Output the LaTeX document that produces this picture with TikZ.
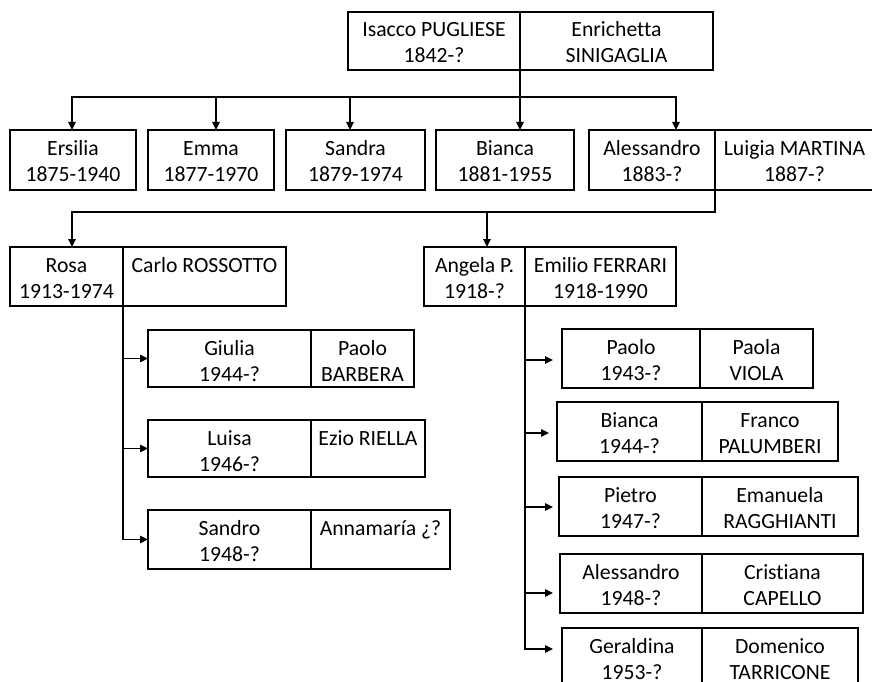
\documentclass[tikz,border=0pt]{standalone}
\usepackage{fontspec}
\setmainfont{Carlito}[Ligatures=NoCommon]
\usetikzlibrary{arrows.meta}

% one box of a family chart: name, corners (x1,y1)-(x2,y2), two text lines
\newcommand{\famcell}[7]{%
  \pgfmathsetmacro{\cw}{#4-#2}%
  \pgfmathsetmacro{\ch}{#5-#3}%
  \node[cellbox, minimum width=\cw pt, minimum height=\ch pt]
    (#1) at ({(#2+#4)/2},{(#3+#5)/2}) {};
  \path (#1.north) ++(0,25) node[celltext] (#1-a) {#6}
                   ++(0,26) node[celltext] (#1-b) {#7};
}

\begin{document}
\begin{tikzpicture}[x=1pt, y=-1pt,
  cellbox/.style={draw=black, line width=1.3pt, inner sep=0pt, outer sep=0pt},
  celltext/.style={anchor=base, inner sep=0pt, font=\fontsize{21.7}{26}\selectfont, text=black},
  link/.style={draw=black, line width=1.3pt},
  arr/.style={link, -{Triangle[length=8pt, width=7.5pt]}}]
\useasboundingbox (0,0) rectangle (872,682);

% first generation
\famcell{isacco}{348}{12}{520}{70}{Isacco PUGLIESE}{1842-?}
\famcell{enrichetta}{520}{12}{713}{70}{Enrichetta}{SINIGAGLIA}

% their children
\famcell{ersilia}{10}{130}{136}{190}{Ersilia}{1875-1940}
\famcell{emma}{148}{130}{274}{190}{Emma}{1877-1970}
\famcell{sandra}{286}{130}{425}{190}{Sandra}{1879-1974}
\famcell{biancaA}{436}{130}{574}{190}{Bianca}{1881-1955}
\famcell{alessandroA}{589}{130}{715}{190}{Alessandro}{1883-?}
\famcell{luigia}{715}{130}{874}{190}{Luigia MARTINA}{1887-?}

% grandchildren
\famcell{rosa}{10}{247}{123}{306}{Rosa}{1913-1974}
\famcell{carlo}{123}{247}{286}{306}{Carlo ROSSOTTO}{}
\famcell{angela}{424}{247}{525}{306}{Angela P.}{1918-?}
\famcell{emilio}{525}{247}{676}{306}{Emilio FERRARI}{1918-1990}

% children of Rosa
\famcell{giulia}{148}{330}{311}{387}{Giulia}{1944-?}
\famcell{barbera}{311}{330}{414}{387}{Paolo}{BARBERA}
\famcell{luisa}{148}{420}{311}{477}{Luisa}{1946-?}
\famcell{ezio}{311}{420}{425}{477}{Ezio RIELLA}{}
\famcell{sandro}{148}{510}{311}{569}{Sandro}{1948-?}
\famcell{annamaria}{311}{510}{450}{569}{Annamaría ¿?}{}

% children of Angela
\famcell{paolo}{562}{329}{700}{388}{Paolo}{1943-?}
\famcell{paola}{700}{329}{813}{388}{Paola}{VIOLA}
\famcell{biancaB}{557}{402}{702}{461}{Bianca}{1944-?}
\famcell{franco}{702}{402}{838}{461}{Franco}{PALUMBERI}
\famcell{pietro}{559}{477}{702}{536}{Pietro}{1947-?}
\famcell{emanuela}{702}{477}{858}{536}{Emanuela}{RAGGHIANTI}
\famcell{alessandroB}{560}{554}{702}{613}{Alessandro}{1948-?}
\famcell{cristiana}{702}{554}{863}{613}{Cristiana}{CAPELLO}
\famcell{geraldina}{562}{628}{702}{687}{Geraldina}{1953-?}
\famcell{domenico}{702}{628}{858}{687}{Domenico}{TARRICONE}

% bus from the first couple
\coordinate (t1) at (72,97);
\coordinate (t2) at (216,97);
\coordinate (t3) at (350,97);
\coordinate (t4) at (520,97);
\coordinate (t5) at (676,97);
\draw[link] (isacco.south east) -- (t4);
\draw[arr] (t2) -- (t1) -- (t1 |- ersilia.north);
\draw[arr] (t2) -- (t5) -- (t5 |- alessandroA.north);
\draw[arr] (t2) -- (t2 |- emma.north);
\draw[arr] (t3) -- (t3 |- sandra.north);
\draw[arr] (t4) -- (t4 |- biancaA.north);

% bus from Alessandro and Luigia
\coordinate (g1) at (72,212);
\coordinate (g2) at (487,212);
\draw[arr] (alessandroA.south east) |- (g1) -- (g1 |- rosa.north);
\draw[arr] (g2) -- (g2 |- angela.north);

% Rosa's line
\draw[arr] (rosa.south east) |- (sandro.west);
\draw[arr] (rosa.south east |- giulia.west) -- (giulia.west);
\draw[arr] (rosa.south east |- luisa.west) -- (luisa.west);

% Angela's line
\coordinate (e1) at (553,360);
\coordinate (e2) at (549,433);
\coordinate (e3) at (553,507);
\coordinate (e4) at (553,593);
\coordinate (e5) at (553,649);
\draw[arr] (angela.south east) |- (e5);
\draw[arr] (angela.south east |- e1) -- (e1);
\draw[arr] (angela.south east |- e2) -- (e2);
\draw[arr] (angela.south east |- e3) -- (e3);
\draw[arr] (angela.south east |- e4) -- (e4);
\end{tikzpicture}
\end{document}
